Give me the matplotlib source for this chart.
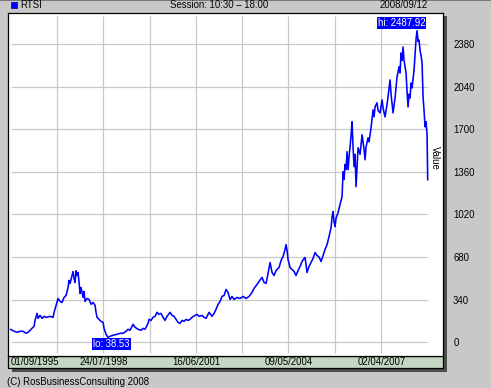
import matplotlib
matplotlib.use("Agg")
import matplotlib.pyplot as plt
from matplotlib.patches import Rectangle
import datetime as dt

# ---------------- data (decimal year, index value) ----------------
years = [
    1995.667, 1995.771, 1995.864, 1995.958, 1996.052, 1996.146, 1996.208, 1996.271,
    1996.333, 1996.396, 1996.427, 1996.489, 1996.521, 1996.583, 1996.646, 1996.708,
    1996.771, 1996.896, 1996.989, 1997.021, 1997.083, 1997.146, 1997.208, 1997.271,
    1997.333, 1997.396, 1997.458, 1997.489, 1997.521, 1997.583, 1997.614, 1997.646,
    1997.677, 1997.708, 1997.739, 1997.771, 1997.802, 1997.833, 1997.864, 1997.927,
    1997.958, 1997.989, 1998.052, 1998.114, 1998.177, 1998.239, 1998.302, 1998.333,
    1998.364, 1998.427, 1998.489, 1998.552, 1998.583, 1998.646, 1998.708,
    1998.771, 1998.864, 1998.989, 1999.083, 1999.177, 1999.271, 1999.333, 1999.396,
    1999.489, 1999.552, 1999.646, 1999.739, 1999.802, 1999.864, 1999.958, 1999.989,
    2000.052, 2000.114, 2000.177, 2000.239, 2000.302, 2000.364, 2000.427, 2000.489,
    2000.552, 2000.646, 2000.708, 2000.771, 2000.833, 2000.896, 2000.958, 2001.021,
    2001.083, 2001.146, 2001.208, 2001.271, 2001.333, 2001.427, 2001.489, 2001.552,
    2001.646, 2001.708, 2001.771, 2001.864,
    2001.958, 2002.021, 2002.083, 2002.146, 2002.208, 2002.271, 2002.333, 2002.396,
    2002.458, 2002.521, 2002.583, 2002.646, 2002.739, 2002.833, 2002.927, 2003.021,
    2003.114, 2003.208, 2003.271, 2003.364, 2003.427, 2003.521, 2003.583, 2003.646,
    2003.708, 2003.771, 2003.833, 2003.896, 2003.958, 2004.052, 2004.114, 2004.177,
    2004.239, 2004.271, 2004.302, 2004.333, 2004.396, 2004.458, 2004.521, 2004.583,
    2004.646, 2004.708, 2004.771, 2004.833, 2004.864, 2004.896, 2004.927, 2004.989,
    2005.052, 2005.114, 2005.177, 2005.239, 2005.302, 2005.364, 2005.427, 2005.489,
    2005.552, 2005.614,
    2005.677, 2005.708, 2005.739, 2005.771, 2005.802, 2005.833, 2005.896, 2005.958,
    2006.021, 2006.052, 2006.083, 2006.114, 2006.146, 2006.177, 2006.208, 2006.239,
    2006.271, 2006.302, 2006.333, 2006.364, 2006.396, 2006.427, 2006.458, 2006.489,
    2006.521, 2006.583, 2006.646, 2006.677, 2006.708, 2006.739, 2006.771, 2006.833,
    2006.864, 2006.927, 2006.989, 2007.021, 2007.052, 2007.114, 2007.146, 2007.208,
    2007.271, 2007.302, 2007.364, 2007.427, 2007.458, 2007.521, 2007.552, 2007.614,
    2007.677, 2007.739, 2007.802, 2007.833, 2007.864, 2007.896, 2007.927, 2007.958,
    2008.021, 2008.052, 2008.083, 2008.114, 2008.146, 2008.177, 2008.208, 2008.271,
    2008.302, 2008.333, 2008.364, 2008.396, 2008.427, 2008.458, 2008.489, 2008.521,
    2008.552, 2008.583, 2008.614, 2008.646, 2008.677, 2008.697,
]
values = [
    103, 88, 80, 88, 88, 72, 80, 96,
    111, 128, 175, 231, 191, 215, 191, 207,
    199, 207, 199, 239, 295, 350, 326, 318,
    358, 374, 438, 494, 470, 533, 565, 509,
    478, 571, 533, 557, 478, 390, 438, 358,
    406, 326, 350, 342, 303, 318, 295, 239,
    199, 183, 167, 159, 111, 64, 38.53,
    48, 56, 64, 72, 72, 88, 104, 96,
    143, 120, 104, 96, 111, 104, 151, 183,
    175, 199, 207, 239, 223, 231, 199, 175,
    207, 239, 215, 207, 183, 159, 151, 175,
    167, 183, 175, 183, 199, 215, 223, 207,
    215, 199, 191, 239,
    207, 231, 263, 303, 326, 366, 374, 422,
    398, 342, 366, 342, 358, 350, 366, 350,
    366, 398, 430, 462, 486, 518, 478, 470,
    550, 637, 557, 533, 573, 597, 653, 685,
    740, 780, 732, 660, 597, 581, 565, 533,
    573, 605, 645, 669, 677, 620, 557, 605,
    637, 669, 716, 693, 680, 645, 693, 740,
    780, 844,
    916, 1000, 1043, 960, 924, 990, 1035, 1100,
    1162, 1361, 1300, 1420, 1380, 1521, 1377, 1480,
    1560, 1650, 1760, 1560, 1401, 1500, 1242, 1400,
    1553, 1500, 1656, 1600, 1540, 1457, 1560, 1632,
    1600, 1712, 1855, 1800, 1880, 1911, 1850, 1831,
    1935, 1870, 1799, 1900, 1960, 2094, 1980, 1831,
    1950, 2118, 2200, 2150, 2309, 2250, 2357, 2250,
    2150, 2000, 1879, 1980, 1950, 2070, 2030, 2174,
    2300, 2420, 2487.92, 2400, 2412, 2330, 2290, 2229,
    1959, 1850, 1720, 1760, 1656, 1298,
]

ytick_values = [0, 340, 680, 1020, 1360, 1700, 2040, 2380]
xtick_dates = ["01/09/1995", "24/07/1998", "16/06/2001", "09/05/2004", "02/04/2007"]
series_name = "RTSI"
session_text = "Session: 10:30 \u2013 18:00"
date_text = "2008/09/12"
hi_text = "hi: 2487.92"
lo_text = "lo: 38.53"
copyright_text = "(C) RosBusinessConsulting 2008"


def to_year(s):
    d = dt.datetime.strptime(s, "%d/%m/%Y")
    start = dt.datetime(d.year, 1, 1)
    end = dt.datetime(d.year + 1, 1, 1)
    return d.year + (d - start).total_seconds() / (end - start).total_seconds()


W, H = 491, 388
FONT = "Liberation Sans"
FS = 6.9
BG = "#c8c8c8"
BLUE = "#0000ff"


def fx(px):
    return px / W


def fy(py):
    return 1 - py / H


fig = plt.figure(figsize=(W / 100, H / 100), dpi=100, facecolor=BG)

# top dark line
fig.add_artist(Rectangle((0, fy(1.2)), 1, 1.2 / H, transform=fig.transFigure,
                         facecolor="#7a7a7a", edgecolor="none"))
# shadow
fig.add_artist(Rectangle((fx(12), fy(372)), fx(447) - fx(12), fy(16) - fy(372),
                         transform=fig.transFigure, facecolor="#4d4d4d",
                         edgecolor="none", zorder=0))
# green date band
fig.add_artist(Rectangle((fx(8), fy(367.5)), fx(443) - fx(8), fy(356) - fy(367.5),
                         transform=fig.transFigure, facecolor="#c3d6c3",
                         edgecolor="black", linewidth=0.9, zorder=1))

ax = fig.add_axes([fx(8), fy(356), fx(443) - fx(8), fy(12.7) - fy(356)])
ax.set_facecolor("white")
ax.set_zorder(2)
for sp in ax.spines.values():
    sp.set_color("black")
    sp.set_linewidth(0.9)

x0 = to_year(xtick_dates[0])
x_end = years[-1]
ppy = 32.0
ax.set_xlim(x0 - 2.7 / ppy, x0 + 432.3 / ppy)
ppv = 0.1253
ax.set_ylim((342.3 - 356) / ppv, (342.3 - 12.7) / ppv)

# grid lines
step = (to_year(xtick_dates[1]) - x0) / 2
gx = [x0 + step * k for k in range(1, 9)]
ax.vlines(gx, (342.3 - 353) / ppv, (342.3 - 16) / ppv, color="#c8c8c8", linewidth=0.9, zorder=1)
ax.hlines(ytick_values, x0, x_end, color="#c8c8c8", linewidth=0.9, zorder=1)

ax.plot(years, values, color=BLUE, linewidth=1.15, zorder=3)

ax.set_xticks([])
ax.yaxis.tick_right()
ax.set_yticks(ytick_values)
ax.set_yticklabels([str(v) for v in ytick_values], fontfamily=FONT, fontsize=FS)
ax.tick_params(axis="y", length=0, pad=7.3)

# x labels in the band
for i, lab in enumerate(xtick_dates):
    xv = to_year(lab)
    ax.text(xv, -0.0175, lab, transform=ax.get_xaxis_transform(),
            ha="left" if i == 0 else "center", va="center",
            fontfamily=FONT, fontsize=FS, clip_on=False)

# hi / lo markers
ax.text(x0 + (401.5 - 10.7) / ppy, (342.3 - 23) / ppv, hi_text, ha="center", va="center",
        color="white", fontfamily=FONT, fontsize=FS, zorder=5,
        bbox=dict(facecolor=BLUE, edgecolor="none", pad=0.6))
ax.text(x0 + (111.5 - 10.7) / ppy, (342.3 - 344) / ppv, lo_text, ha="center", va="center",
        color="white", fontfamily=FONT, fontsize=FS, zorder=5,
        bbox=dict(facecolor=BLUE, edgecolor="none", pad=0.6))

ax.text(x0 + (435 - 10.7) / ppy, (342.3 - 158) / ppv, "Value", rotation=-90,
        ha="center", va="center", fontfamily=FONT, fontsize=FS)

# header
fig.add_artist(Rectangle((fx(11), fy(8)), fx(6), 6 / H, transform=fig.transFigure,
                         facecolor=BLUE, edgecolor="#000080", linewidth=0.5))
fig.text(fx(20), fy(5), series_name, ha="left", va="center", fontfamily=FONT, fontsize=FS)
fig.text(fx(219.5), fy(5), session_text, ha="center", va="center", fontfamily=FONT, fontsize=FS)
fig.text(fx(428), fy(5), date_text, ha="right", va="center", fontfamily=FONT, fontsize=FS)

fig.text(fx(7), fy(382), copyright_text, ha="left", va="center", fontfamily=FONT, fontsize=FS)

fig.savefig("out.png", dpi=100, facecolor=BG)
